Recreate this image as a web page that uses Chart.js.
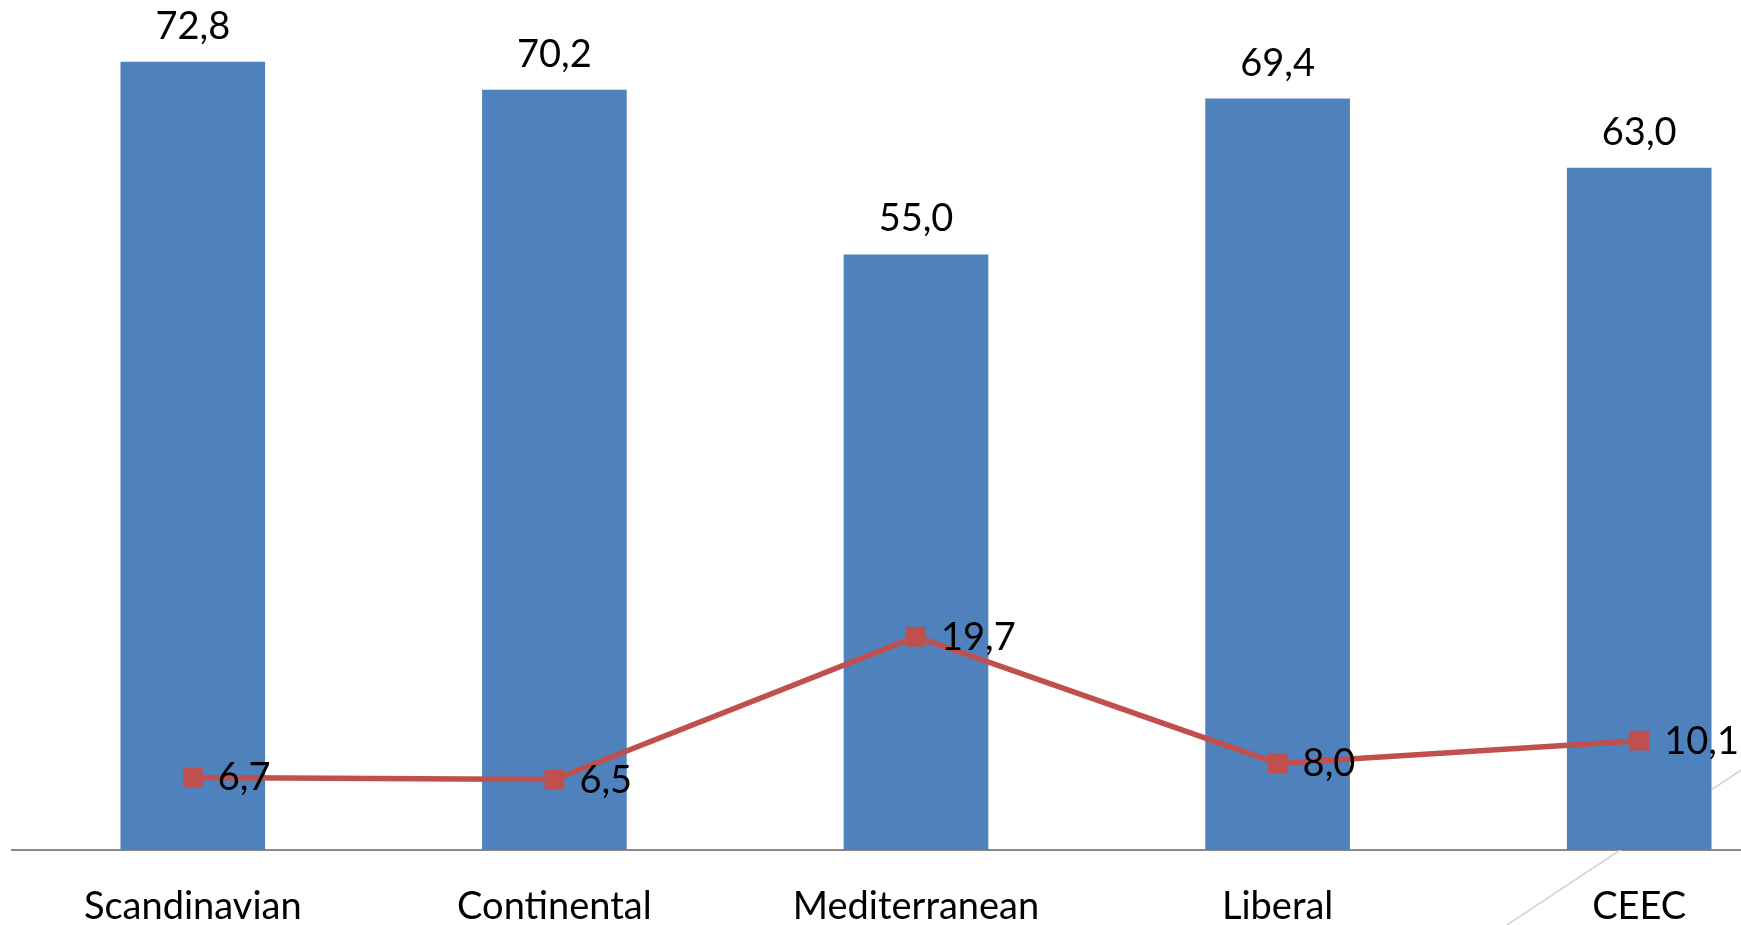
<!DOCTYPE html>
<html>
<head>
<meta charset="utf-8">
<script src="https://cdn.jsdelivr.net/npm/chart.js@4/dist/chart.umd.min.js"></script>
<style>
    html, body { margin: 0; padding: 0; background: #fff; overflow: hidden; }
    #wrap { width: 1741px; height: 925px; overflow: hidden; }
</style>
</head>
<body>
<div id="wrap"><canvas id="myChart" width="1832" height="925"></canvas></div>
<script>
const categories = ['Scandinavian', 'Continental', 'Mediterranean', 'Liberal', 'CEEC'];
const barValues = [72.8, 70.2, 55.0, 69.4, 63.0];
const lineValues = [6.7, 6.5, 19.7, 8.0, 10.1];

const FONT = 'Lato, "Liberation Sans", sans-serif';
const fmt = v => v.toFixed(1).replace('.', ',');

// thin grey slide accent behind the bars
const accentLine = {
    id: 'accentLine',
    beforeDatasetsDraw(chart) {
        const ctx = chart.ctx;
        ctx.save();
        ctx.strokeStyle = '#d4d4d4';
        ctx.lineWidth = 1.5;
        ctx.beginPath();
        ctx.moveTo(1507, 925);
        ctx.lineTo(1832, 710);
        ctx.stroke();
        ctx.restore();
    }
};

// value labels: above the bars, right of the line points
const valueLabels = {
    id: 'valueLabels',
    afterDatasetsDraw(chart) {
        const ctx = chart.ctx;
        ctx.save();
        ctx.fillStyle = '#000';
        ctx.font = '38px ' + FONT;
        ctx.textBaseline = 'alphabetic';

        ctx.textAlign = 'center';
        chart.getDatasetMeta(1).data.forEach((bar, i) => {
            ctx.fillText(fmt(barValues[i]), bar.x, bar.y - 23);
        });

        ctx.textAlign = 'left';
        chart.getDatasetMeta(0).data.forEach((pt, i) => {
            ctx.fillText(fmt(lineValues[i]), pt.x + 25, pt.y + 13);
        });
        ctx.restore();
    }
};

const ctx = document.getElementById('myChart').getContext('2d');
new Chart(ctx, {
    data: {
        labels: categories,
        datasets: [{
            type: 'line',
            data: lineValues,
            borderColor: '#C0504D',
            backgroundColor: '#C0504D',
            borderWidth: 5.5,
            pointStyle: 'rect',
            pointRadius: 14,
            pointHoverRadius: 14,
            pointBorderWidth: 0,
            tension: 0,
            order: 0
        }, {
            type: 'bar',
            data: barValues,
            backgroundColor: '#4F81BD',
            barPercentage: 0.4,
            categoryPercentage: 1,
            order: 1
        }]
    },
    options: {
        responsive: false,
        animation: false,
        layout: { autoPadding: false, padding: { left: 12, right: 12, top: 0, bottom: 0 } },
        plugins: { legend: { display: false }, tooltip: { enabled: false } },
        scales: {
            x: {
                grid: { display: false, drawTicks: false },
                border: { display: true, color: '#8a8a8a', width: 2 },
                ticks: { color: '#000', font: { family: FONT, size: 38 }, padding: 34, maxRotation: 0 },
                afterFit(scale) { scale.height = 75; }
            },
            y: { display: false, min: 0, max: 78.5 }
        }
    },
    plugins: [accentLine, valueLabels]
});
</script>
</body>
</html>
